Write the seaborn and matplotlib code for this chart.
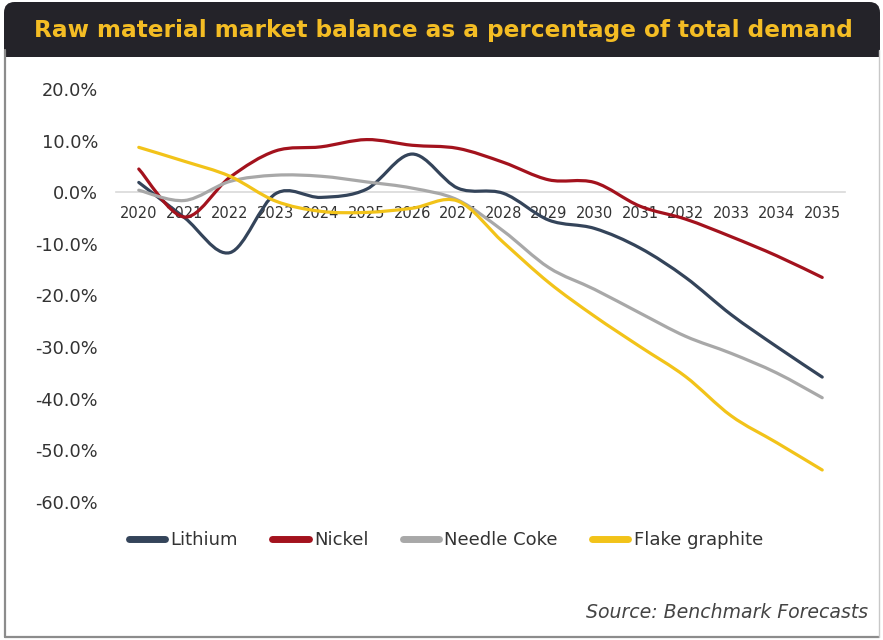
import numpy as np
import pandas as pd
import matplotlib
matplotlib.use("Agg")
import matplotlib.pyplot as plt
import seaborn as sns
from matplotlib.path import Path
from matplotlib.patches import PathPatch, FancyBboxPatch, Rectangle
from matplotlib.lines import Line2D

# ---- data (market balance, % of total demand) ----
years = list(range(2020, 2036))
lithium = [1.9, -4.9, -11.7, -0.3, -1.0, 0.6, 7.4, 0.8, -0.2, -5.4, -7.0, -10.8, -16.5, -23.7, -29.9, -35.8]
nickel = [4.5, -4.8, 2.9, 8.0, 8.8, 10.2, 9.1, 8.5, 5.8, 2.4, 1.9, -2.7, -5.2, -8.6, -12.3, -16.5]
needle_coke = [0.4, -1.6, 2.1, 3.3, 3.1, 2.0, 0.8, -1.5, -7.5, -14.6, -18.8, -23.4, -27.9, -31.2, -35.0, -39.8]
flake_graphite = [8.7, 6.0, 3.1, -1.7, -3.7, -3.9, -3.1, -1.7, -9.7, -17.5, -24.0, -29.9, -35.7, -43.3, -48.5, -53.8]

series_names = ["Lithium", "Nickel", "Needle Coke", "Flake graphite"]
series_values = [lithium, nickel, needle_coke, flake_graphite]
series_colors = ["#34445a", "#a3121d", "#a8a8a8", "#f2c319"]

y_ticks = [20, 10, 0, -10, -20, -30, -40, -50, -60]
title_text = "Raw material market balance as a percentage of total demand"
source_text = "Source: Benchmark Forecasts"

df = pd.DataFrame({
    "year": np.tile(years, len(series_names)),
    "value": np.concatenate(series_values),
    "material": np.repeat(series_names, len(years)),
})

sns.set_theme(style="white")
plt.rcParams["font.family"] = ["DejaVu Sans"]

W, H = 883, 640
fig = plt.figure(figsize=(W / 100, H / 100), dpi=100)
fig.patch.set_facecolor("white")

# frame around the card
fig.add_artist(Line2D([5 / W, 5 / W], [1 - 637 / H, 1 - 50 / H], color="#8c8c8c", lw=1.6,
                      transform=fig.transFigure))
fig.add_artist(Line2D([5 / W, 879 / W], [1 - 637 / H, 1 - 637 / H], color="#8c8c8c", lw=1.6,
                      transform=fig.transFigure))
fig.add_artist(Line2D([879 / W, 879 / W], [1 - 637 / H, 1 - 50 / H], color="#c8c8c8", lw=1.0,
                      transform=fig.transFigure))

# dark title banner
banner = FancyBboxPatch((4 / W, 1 - 57 / H), 876 / W, 55 / H,
                        boxstyle="round,pad=0,rounding_size=0.012",
                        transform=fig.transFigure, facecolor="#242329", edgecolor="none",
                        mutation_aspect=W / H)
fig.add_artist(banner)
fig.add_artist(Rectangle((4 / W, 1 - 57 / H), 876 / W, 30 / H, transform=fig.transFigure,
                         facecolor="#242329", edgecolor="none"))
fig.text(443 / W, 1 - 31 / H, title_text, ha="center", va="center",
         fontsize=16.7, fontweight="bold", color="#f4bd24", family="DejaVu Sans")

# plot area
ax = fig.add_axes([116 / W, 1 - 502 / H, 729 / W, 413 / H])
sns.lineplot(data=df, x="year", y="value", hue="material", hue_order=series_names,
             palette=series_colors, ax=ax, legend=False, linewidth=2.3)

# render each seaborn line as a smooth curve through its own points
for line, color in zip(ax.get_lines(), series_colors):
    xy = np.asarray(line.get_xydata(), dtype=float)
    n = len(xy)
    verts = [tuple(xy[0])]
    codes = [Path.MOVETO]
    for i in range(n - 1):
        p0 = xy[i - 1] if i > 0 else xy[i]
        p1 = xy[i]
        p2 = xy[i + 1]
        p3 = xy[i + 2] if i + 2 < n else xy[i + 1]
        c1 = p1 + (p2 - p0) / 6.0
        c2 = p2 - (p3 - p1) / 6.0
        verts += [tuple(c1), tuple(c2), tuple(p2)]
        codes += [Path.CURVE4, Path.CURVE4, Path.CURVE4]
    ax.add_patch(PathPatch(Path(verts, codes), facecolor="none", edgecolor=color,
                           lw=2.3, capstyle="round", joinstyle="round", zorder=3))
    line.set_visible(False)

ax.set_xlim(2019.5, 2035.5)
ax.set_ylim(-60, 20)
ax.set_xticks(years)
ax.set_xticklabels([str(y) for y in years])
ax.set_yticks(y_ticks)
ax.set_yticklabels([f"{t:.1f}%" for t in y_ticks])
ax.set_xlabel("")
ax.set_ylabel("")

for s in ["top", "right", "left"]:
    ax.spines[s].set_visible(False)
ax.spines["bottom"].set_position(("data", 0))
ax.spines["bottom"].set_color("#d9d9d9")
ax.spines["bottom"].set_linewidth(1.2)
ax.spines["bottom"].set_zorder(1)
ax.tick_params(axis="x", length=0, pad=10, labelsize=10.5, labelcolor="#333333")
ax.tick_params(axis="y", length=0, pad=13, labelsize=12.8, labelcolor="#333333")
ax.set_facecolor("none")
ax.grid(False)

# legend
handles = [Line2D([0], [0], color=c, lw=5, solid_capstyle="round") for c in series_colors]
fig.legend(handles, series_names, loc="center", bbox_to_anchor=(446 / W, 1 - 540 / H),
           ncol=4, frameon=False, fontsize=13, handlelength=2.0, handletextpad=0.3,
           columnspacing=1.9, labelcolor="#333333")

fig.text(868 / W, 1 - 612 / H, source_text, ha="right", va="center", fontsize=13.6,
         style="italic", color="#444444")

fig.savefig("out.png", dpi=100, facecolor="white")
